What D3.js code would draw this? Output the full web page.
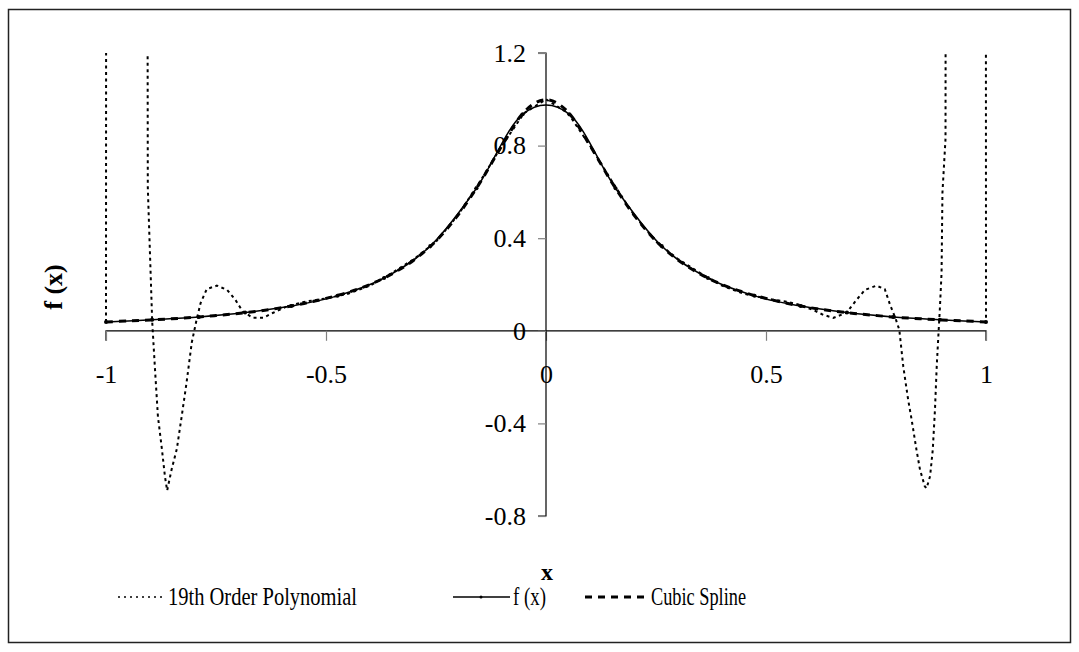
<!DOCTYPE html>
<html>
<head>
<meta charset="utf-8">
<script src="https://cdn.jsdelivr.net/npm/d3@7"></script>
<style>
  body { margin: 0; background: #fff; }
  text { font-family: "Liberation Serif", "Times New Roman", serif; fill: #000; }
</style>
</head>
<body>
<div id="chart"></div>
<script>
var svgWidth = 1079;
var svgHeight = 652;

// x ticks / y ticks
var xTicks = [-1, -0.5, 0, 0.5, 1];
var yTicks = [-0.8, -0.4, 0, 0.4, 0.8, 1.2];

// 19th order polynomial (values above 1.2 leave the plot)
var polyX = [-1.000, -0.990, -0.920, -0.910, -0.905, -0.895, -0.889, -0.882, -0.873, -0.866,
  -0.861, -0.851, -0.839, -0.828, -0.817, -0.805, -0.795, -0.785, -0.771, -0.748,
  -0.725, -0.706, -0.689, -0.666, -0.643, -0.620, -0.589, -0.550, -0.500, -0.450,
  -0.400, -0.350, -0.300, -0.250, -0.200, -0.150, -0.100, -0.050, 0.000, 0.050,
  0.100, 0.150, 0.200, 0.250, 0.300, 0.350, 0.400, 0.450, 0.500, 0.550,
  0.577, 0.607, 0.630, 0.653, 0.683, 0.706, 0.725, 0.751, 0.770, 0.782,
  0.795, 0.803, 0.812, 0.823, 0.831, 0.842, 0.850, 0.861, 0.865, 0.873,
  0.879, 0.884, 0.888, 0.892, 0.895, 0.899, 0.901, 0.908, 0.911, 0.920,
  0.990, 1.000];
var polyY = [0.038, 60, 60, 8, 0.62, 0.04, -0.155, -0.37, -0.51, -0.63,
  -0.69, -0.60, -0.51, -0.37, -0.225, -0.05, 0.04, 0.12, 0.18, 0.195,
  0.177, 0.134, 0.083, 0.056, 0.056, 0.078, 0.105, 0.125, 0.140, 0.160,
  0.195, 0.250, 0.310, 0.385, 0.500, 0.645, 0.800, 0.940, 1.000, 0.940,
  0.800, 0.645, 0.500, 0.385, 0.310, 0.250, 0.195, 0.160, 0.140, 0.125,
  0.112, 0.090, 0.069, 0.056, 0.078, 0.134, 0.177, 0.195, 0.180, 0.112,
  0.050, 0.004, -0.154, -0.297, -0.384, -0.514, -0.60, -0.672, -0.68, -0.627,
  -0.514, -0.341, -0.154, -0.012, 0.09, 0.25, 0.596, 0.83, 8, 60,
  60, 0.038];

// f(x) at the interpolation nodes
var fX = [-1, -0.895, -0.789, -0.684, -0.579, -0.474, -0.368, -0.263, -0.158, -0.053,
  0.053, 0.158, 0.263, 0.368, 0.474, 0.579, 0.684, 0.789, 0.895, 1];
var fY = [0.038, 0.048, 0.060, 0.079, 0.107, 0.151, 0.228, 0.366, 0.616, 0.935,
  0.935, 0.616, 0.366, 0.228, 0.151, 0.107, 0.079, 0.060, 0.048, 0.038];

// cubic spline
var splX = [-1, -0.95, -0.9, -0.85, -0.8, -0.75, -0.7, -0.65, -0.6, -0.55,
  -0.5, -0.45, -0.4, -0.35, -0.3, -0.25, -0.2, -0.15, -0.1, -0.05,
  0, 0.05, 0.1, 0.15, 0.2, 0.25, 0.3, 0.35, 0.4, 0.45,
  0.5, 0.55, 0.6, 0.65, 0.7, 0.75, 0.8, 0.85, 0.9, 0.95, 1];
var splY = [0.038, 0.043, 0.047, 0.052, 0.058, 0.066, 0.075, 0.086, 0.100, 0.118,
  0.140, 0.166, 0.200, 0.246, 0.306, 0.388, 0.500, 0.640, 0.800, 0.945,
  0.998, 0.945, 0.800, 0.640, 0.500, 0.388, 0.306, 0.246, 0.200, 0.166,
  0.140, 0.118, 0.100, 0.086, 0.075, 0.066, 0.058, 0.052, 0.047, 0.043, 0.038];

var svg = d3.select("#chart")
  .append("svg")
  .attr("width", svgWidth)
  .attr("height", svgHeight);

// outer frame
svg.append("rect")
  .attr("x", 8.5).attr("y", 9.5)
  .attr("width", 1062).attr("height", 633)
  .attr("fill", "#fff")
  .attr("stroke", "#222")
  .attr("stroke-width", 1.5);

var xScale = d3.scaleLinear().domain([-1, 1]).range([106, 986]);
var yScale = d3.scaleLinear().domain([-0.8, 1.2]).range([516, 53]);

svg.append("clipPath").attr("id", "plotClip")
  .append("rect")
  .attr("x", xScale(-1) - 2).attr("y", yScale(1.2))
  .attr("width", xScale(1) - xScale(-1) + 4)
  .attr("height", yScale(-0.8) - yScale(1.2));

// plain hyphen like the original, not the unicode minus
var fmt = d => String(d);

// x axis through y = 0
var xAxis = svg.append("g")
  .attr("transform", `translate(0, ${yScale(0)})`)
  .call(d3.axisBottom(xScale).tickValues(xTicks).tickSize(10).tickPadding(24).tickFormat(fmt));

// y axis through x = 0
var yAxis = svg.append("g")
  .attr("transform", `translate(${xScale(0)}, 0)`)
  .call(d3.axisLeft(yScale).tickValues(yTicks).tickSize(8).tickPadding(12).tickFormat(fmt));

[xAxis, yAxis].forEach(function (ax) {
  ax.select(".domain").attr("stroke", "#000").attr("stroke-width", 1.2);
  ax.selectAll(".tick line").attr("stroke", "#808080").attr("stroke-width", 1.2);
  ax.selectAll(".tick text")
    .attr("fill", "#000")
    .style("font-family", "'Liberation Serif', serif")
    .style("font-size", "26px");
});
xAxis.select(".domain").attr("d", `M${xScale(-1)},10V0H${xScale(1)}V10`);
yAxis.select(".domain").attr("d", `M-8,${yScale(1.2)}H0V${yScale(-0.8)}H-8`);

var plot = svg.append("g").attr("clip-path", "url(#plotClip)");

var polyData = d3.zip(polyX, polyY);
var fData = d3.zip(fX, fY);
var splData = d3.zip(splX, splY);

var line = d3.line()
  .x(d => xScale(d[0]))
  .y(d => yScale(d[1]));

plot.append("path")
  .datum(polyData)
  .attr("d", line)
  .attr("fill", "none")
  .attr("stroke", "#000")
  .attr("stroke-width", 2)
  .attr("stroke-dasharray", "3,3.5");

plot.append("path")
  .datum(splData)
  .attr("d", line.curve(d3.curveCardinal.tension(0)))
  .attr("fill", "none")
  .attr("stroke", "#000")
  .attr("stroke-width", 3)
  .attr("stroke-dasharray", "7,6");

plot.append("path")
  .datum(fData)
  .attr("d", line.curve(d3.curveCardinal.tension(0)))
  .attr("fill", "none")
  .attr("stroke", "#000")
  .attr("stroke-width", 1.5);

plot.selectAll(".fdot")
  .data(fData)
  .enter()
  .append("circle")
  .attr("class", "fdot")
  .attr("cx", d => xScale(d[0]))
  .attr("cy", d => yScale(d[1]))
  .attr("r", 2)
  .attr("fill", "#000");

// axis titles
svg.append("text")
  .attr("x", 547).attr("y", 580)
  .attr("text-anchor", "middle")
  .attr("font-weight", "bold")
  .attr("font-size", 24)
  .text("x");

svg.append("text")
  .attr("transform", "translate(62, 287) rotate(-90)")
  .attr("text-anchor", "middle")
  .attr("font-weight", "bold")
  .attr("font-size", 26)
  .text("f (x)");

// legend
var legendY = 597;
var legend = svg.append("g");

legend.append("line")
  .attr("x1", 118).attr("x2", 165).attr("y1", legendY).attr("y2", legendY)
  .attr("stroke", "#000").attr("stroke-width", 1.5).attr("stroke-dasharray", "2,4");
legend.append("text")
  .attr("x", 168).attr("y", legendY + 8)
  .attr("font-size", 25)
  .attr("textLength", 189).attr("lengthAdjust", "spacingAndGlyphs")
  .text("19th Order Polynomial");

legend.append("line")
  .attr("x1", 453).attr("x2", 510).attr("y1", legendY).attr("y2", legendY)
  .attr("stroke", "#000").attr("stroke-width", 1.5);
legend.append("circle")
  .attr("cx", 481).attr("cy", legendY).attr("r", 1.5).attr("fill", "#000");
legend.append("text")
  .attr("x", 513).attr("y", legendY + 8)
  .attr("font-size", 25)
  .attr("textLength", 33).attr("lengthAdjust", "spacingAndGlyphs")
  .text("f (x)");

legend.append("line")
  .attr("x1", 585).attr("x2", 648).attr("y1", legendY).attr("y2", legendY)
  .attr("stroke", "#000").attr("stroke-width", 3).attr("stroke-dasharray", "7,6");
legend.append("text")
  .attr("x", 651).attr("y", legendY + 8)
  .attr("font-size", 25)
  .attr("textLength", 95).attr("lengthAdjust", "spacingAndGlyphs")
  .text("Cubic Spline");
</script>
</body>
</html>
